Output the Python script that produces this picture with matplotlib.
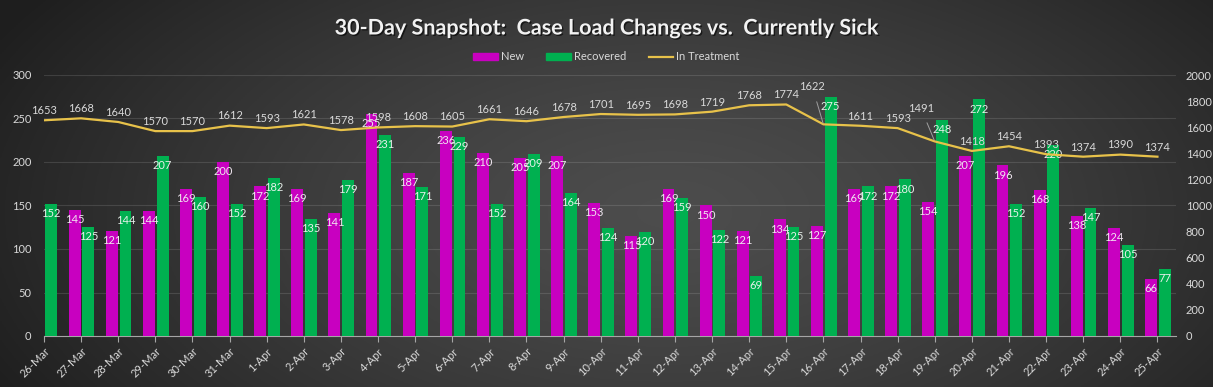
import numpy as np
import matplotlib
matplotlib.use("Agg")
import matplotlib.pyplot as plt
import matplotlib.patheffects as pe
from matplotlib.patches import Patch
from matplotlib.lines import Line2D

dates = ['26-Mar', '27-Mar', '28-Mar', '29-Mar', '30-Mar', '31-Mar',
         '1-Apr', '2-Apr', '3-Apr', '4-Apr', '5-Apr', '6-Apr', '7-Apr', '8-Apr',
         '9-Apr', '10-Apr', '11-Apr', '12-Apr', '13-Apr', '14-Apr', '15-Apr',
         '16-Apr', '17-Apr', '18-Apr', '19-Apr', '20-Apr', '21-Apr', '22-Apr',
         '23-Apr', '24-Apr', '25-Apr']
new_cases = [np.nan, 145, 121, 144, 169, 200, 172, 169, 141, 255, 187, 236, 210, 205,
             207, 153, 115, 169, 150, 121, 134, 127, 169, 172, 154, 207, 196, 168,
             138, 124, 66]
recovered = [152, 125, 144, 207, 160, 152, 182, 135, 179, 231, 171, 229, 152, 209,
             164, 124, 120, 159, 122, 69, 125, 275, 172, 180, 248, 272, 152, 220,
             147, 105, 77]
in_treatment = [1653, 1668, 1640, 1570, 1570, 1612, 1593, 1621, 1578, 1598, 1608,
                1605, 1661, 1646, 1678, 1701, 1695, 1698, 1719, 1768, 1774, 1622,
                1611, 1593, 1491, 1418, 1454, 1393, 1374, 1390, 1374]
left_ticks = [0, 50, 100, 150, 200, 250, 300]
right_ticks = [0, 200, 400, 600, 800, 1000, 1200, 1400, 1600, 1800, 2000]

FONT = ['Lato', 'DejaVu Sans']
plt.rcParams['font.family'] = FONT

C_NEW = '#C800C0'
C_REC = '#00B050'
C_LINE = '#E8C24A'
C_TXT = '#D9D9D9'

W, H = 1213, 387
fig = plt.figure(figsize=(W / 100, H / 100), dpi=100)

# background gradient
bg = fig.add_axes([0, 0, 1, 1], zorder=-10)
yy, xx = np.mgrid[0:1:200j, 0:1:600j]
r = np.sqrt(((xx - 0.55) / 0.62) ** 2 + ((yy - 0.45) / 1.0) ** 2)
r = np.clip(r, 0, 1)
val = 0.30 - (0.30 - 0.12) * r ** 1.4
img = np.dstack([val, val, val])
bg.imshow(img, extent=[0, 1, 0, 1], aspect='auto', origin='lower')
bg.axis('off')

ax = fig.add_axes([44 / W, 1 - 336 / H, (1176 - 44) / W, (336 - 75) / H])
ax.set_facecolor('none')
x = np.arange(len(dates))
bw = 0.32
ax.bar(x - 0.175, new_cases, width=bw, color=C_NEW, zorder=3)
ax.bar(x + 0.195, recovered, width=bw, color=C_REC, zorder=3)
ax.set_xlim(0, 30.5)
ax.set_ylim(0, 300)
ax.set_yticks(left_ticks)
ax.grid(axis='y', color='#ffffff', alpha=0.12, lw=0.8, zorder=0)
ax.set_xticks(x)
ax.set_xticklabels(dates, rotation=45, ha='right', rotation_mode='anchor',
                   fontsize=8, color=C_TXT)
ax.tick_params(axis='x', length=4, color='#a6a6a6', pad=3)
ax.tick_params(axis='y', length=0, labelsize=8, labelcolor=C_TXT, pad=9)
for s in ['top', 'left', 'right']:
    ax.spines[s].set_visible(False)
ax.spines['bottom'].set_color('#a6a6a6')

for xi, v in zip(x, new_cases):
    if not np.isnan(v):
        ax.annotate(f'{int(v)}', (xi - 0.175, v), xytext=(0, -3), textcoords='offset points',
                    ha='center', va='top', fontsize=8, color='#F0E6F0', zorder=6)
for xi, v in zip(x, recovered):
    ax.annotate(f'{int(v)}', (xi + 0.195, v), xytext=(0, -3), textcoords='offset points',
                ha='center', va='top', fontsize=8, color='#E6F0EA', zorder=6)

ax2 = ax.twinx()
ax2.set_facecolor('none')
ax2.plot(x, in_treatment, color=C_LINE, lw=1.6, zorder=4)
ax2.set_ylim(0, 2000)
ax2.set_yticks(right_ticks)
ax2.tick_params(axis='y', length=0, labelsize=8, labelcolor=C_TXT, pad=7)
for s in ax2.spines.values():
    s.set_visible(False)

special = {21: (-8, 27), 24: (-10, 24)}
for xi, v in zip(x, in_treatment):
    if xi in special:
        dx, dy = special[xi]
        ax2.annotate(f'{v}', (xi, v), xytext=(dx, dy), textcoords='offset points',
                     ha='center', va='center', fontsize=8, color=C_TXT, zorder=6,
                     arrowprops=dict(arrowstyle='-', color='#a0a0a0', lw=0.7,
                                     shrinkA=5, shrinkB=1))
    else:
        ax2.annotate(f'{v}', (xi, v), xytext=(0, 3), textcoords='offset points',
                     ha='center', va='bottom', fontsize=8, color=C_TXT, zorder=6)

fig.text(0.5, 1 - 28 / H, '30-Day Snapshot:  Case Load Changes vs.  Currently Sick',
         ha='center', va='center', fontsize=15.5, fontweight='bold', color='#F2F2F2',
         path_effects=[pe.withSimplePatchShadow(offset=(1, -1), shadow_rgbFace='black',
                                                alpha=0.6)])

handles = [Patch(color=C_NEW, label='New'), Patch(color=C_REC, label='Recovered'),
           Line2D([0], [0], color=C_LINE, lw=1.6, label='In Treatment')]
leg = fig.legend(handles=handles, loc='center', bbox_to_anchor=(0.5, 1 - 57 / H), ncol=3,
                 frameon=False, fontsize=8, labelcolor=C_TXT, handlelength=2.2,
                 handleheight=0.6, columnspacing=2.0, handletextpad=0.3)

fig.savefig('out.png', dpi=100)
